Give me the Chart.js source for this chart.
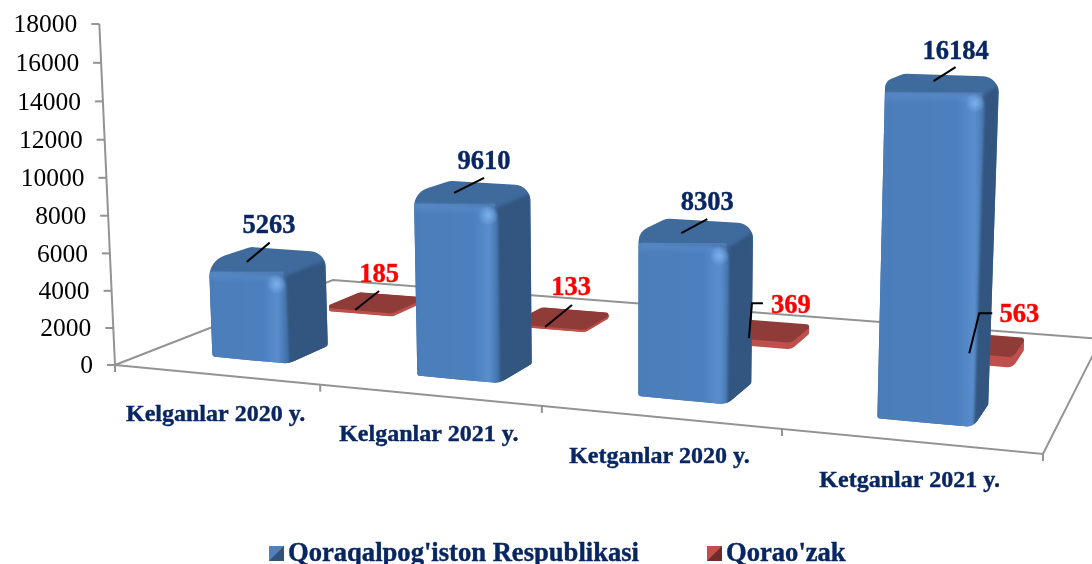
<!DOCTYPE html>
<html lang="en">
<head>
    <meta charset="UTF-8">
    <title>Kelganlar va ketganlar</title>
    <script src="https://cdn.jsdelivr.net/npm/chart.js"></script>
    <style>
        html, body { margin: 0; padding: 0; background: #fff; overflow: hidden; }
        .chart-container { position: relative; width: 1092px; height: 564px; }
    </style>
</head>
<body>
    <div class="chart-container"><canvas id="myChart"></canvas></div>
    <script>
        const categories = ['Kelganlar 2020 y.', 'Kelganlar 2021 y.', 'Ketganlar 2020 y.', 'Ketganlar 2021 y.'];
        const seriesNames = ["Qoraqalpog'iston Respublikasi", "Qorao'zak"];
        const respublikaValues = [5263, 9610, 8303, 16184];
        const qoraozakValues = [185, 133, 369, 563];

        const navy = '#082662';
        const serif = '"Liberation Serif", serif';

        // floor of the 3d box: unit square to picture, solved from the four floor corners
        const H = { a: 773.4, b: 291.1, c: 115, d: 21.7, e: -23.5, f: 365, g: -0.1482, h: 0.2195 };
        const tiltX = 620, tiltDist = 11000;
        const barShift = 0.001;

        // depth slot of each series on the floor
        const depth = [[0.14, 0.32], [0.65, 0.85]];

        // label and leader offsets from the top centre of each bar
        const labelOffsets = [
            [[2, -30], [12, -27], [11.6, -25], [13.6, -27]],
            [[4, -27.5], [9, -30.3], [29, -24.2], [43, -28.7]]
        ];
        const leaderOffsets = [
            [[[2.7, -13.7], [-20.3, 5.6]], [[12.1, -11], [-17.9, 4]], [[11.6, -8.7], [-14.4, 5.3]], [[13.6, -11.9], [-8.4, 2.1]]],
            [[[4, -11.5], [-20, 7.5]], [[10, -13.3], [-17, 8.7]], [[1, -27.2], [-10, -27.2], [-13, 7.8]], [[16, -30.7], [3, -30.7], [-7, 9.3]]]
        ];

        function project(chart, u, w, value) {
            const den = H.g * u + H.h * w + 1;
            const x = (H.a * u + H.b * w + H.c) / den;
            const y = (H.d * u + H.e * w + H.f) / den;
            const scale = chart.scales.y;
            let hp = scale.bottom - scale.getPixelForValue(value);
            hp = hp * (1 + 0.00008 * (hp - 341)) / den;
            return { x: x + (x - tiltX) * hp / tiltDist, y: y - hp };
        }

        function roundPath(ctx, pts, radii) {
            const n = pts.length;
            const len = (p, q) => Math.hypot(p.x - q.x, p.y - q.y);
            ctx.beginPath();
            ctx.moveTo((pts[n - 1].x + pts[0].x) / 2, (pts[n - 1].y + pts[0].y) / 2);
            pts.forEach((p, i) => {
                const next = pts[(i + 1) % n], prev = pts[(i + n - 1) % n];
                const r = Math.min(radii[i], len(p, next) / 2, len(p, prev) / 2);
                ctx.arcTo(p.x, p.y, next.x, next.y, r);
            });
            ctx.closePath();
        }

        function polygon(ctx, pts) {
            ctx.beginPath();
            pts.forEach((p, i) => i ? ctx.lineTo(p.x, p.y) : ctx.moveTo(p.x, p.y));
            ctx.closePath();
        }

        function line(ctx, pts, color, width) {
            ctx.beginPath();
            pts.forEach((p, i) => i ? ctx.lineTo(p.x, p.y) : ctx.moveTo(p.x, p.y));
            ctx.strokeStyle = color;
            ctx.lineWidth = width;
            ctx.stroke();
        }

        function boldText(ctx, text, x, y, color) {
            ctx.fillStyle = color;
            ctx.strokeStyle = color;
            ctx.lineWidth = 0.4;
            ctx.fillText(text, x, y);
            ctx.strokeText(text, x, y);
        }

        function barRange(chart, el) {
            const area = chart.chartArea;
            return [(el.x - el.width / 2 - area.left) / area.width + barShift, (el.x + el.width / 2 - area.left) / area.width + barShift];
        }

        function drawBlueBar(chart, el, value) {
            const ctx = chart.ctx;
            const [u0, u1] = barRange(chart, el);
            const [w0, w1] = depth[0];
            const fbl = project(chart, u0, w0, 0), fbr = project(chart, u1, w0, 0), bbr = project(chart, u1, w1, 0);
            const ftl = project(chart, u0, w0, value), ftr = project(chart, u1, w0, value);
            const btr = project(chart, u1, w1, value), btl = project(chart, u0, w1, value);
            const down = (p, d) => ({ x: p.x, y: p.y + d });
            const ftlD = down(ftl, 10), ftrD = down(ftr, 10), btrD = down(btr, 8);

            ctx.save();
            roundPath(ctx, [fbl, ftl, btl, btr, bbr, fbr], [3, 30, 14, 16, 3, 22]);
            ctx.fillStyle = '#3f6a9c';
            ctx.fill();
            ctx.clip();

            ctx.filter = 'blur(1.5px)';
            polygon(ctx, [{ x: fbr.x, y: fbr.y + 6 }, ftrD, btrD, { x: bbr.x + 6, y: bbr.y + 6 }]);
            ctx.fillStyle = '#32567f';
            ctx.fill();

            roundPath(ctx, [down(fbl, 8), { x: ftlD.x - 8, y: ftlD.y }, ftrD, down(fbr, 8)], [0, 13, 13, 0]);
            const g = ctx.createLinearGradient(ftl.x, 0, ftr.x, 0);
            g.addColorStop(0, '#4a7db9');
            g.addColorStop(0.72, '#4c7fbd');
            g.addColorStop(0.9, '#5a8ecd');
            g.addColorStop(1, '#4475ad');
            ctx.fillStyle = g;
            ctx.fill();
            ctx.filter = 'none';

            const bevel = ctx.createLinearGradient(0, ftlD.y, 0, ftlD.y + 12);
            bevel.addColorStop(0, 'rgba(105,155,215,0.45)');
            bevel.addColorStop(1, 'rgba(105,155,215,0)');
            ctx.fillStyle = bevel;
            ctx.fillRect(ftl.x - 8, ftlD.y + 1, ftr.x - ftl.x + 6, 14);
            const spot = ctx.createRadialGradient(ftrD.x - 9, ftrD.y + 8, 0, ftrD.x - 9, ftrD.y + 8, 10);
            spot.addColorStop(0, 'rgba(125,178,238,0.95)');
            spot.addColorStop(1, 'rgba(125,178,238,0)');
            ctx.fillStyle = spot;
            ctx.fillRect(ftrD.x - 20, ftrD.y - 3, 24, 24);
            ctx.restore();
        }

        function drawRedBar(chart, el, value) {
            const ctx = chart.ctx;
            const [u0, u1] = barRange(chart, el);
            const [w0, w1] = depth[1];
            const outline = v => [project(chart, u0, w0, v), project(chart, u0, w1, v), project(chart, u1, w1, v), project(chart, u1, w0, v)];
            const radii = [2, 10, 2.5, 10];
            const steps = 8;
            for (let k = 0; k < steps; k++) {
                roundPath(ctx, outline(value * k / steps), radii);
                ctx.fillStyle = '#bf504c';
                ctx.fill();
            }
            roundPath(ctx, outline(value), radii);
            ctx.fillStyle = '#8f3c39';
            ctx.fill();
        }

        function drawFloor(chart) {
            const ctx = chart.ctx;
            const grey = '#939393';
            line(ctx, [project(chart, 0, 0, 0), project(chart, 0, 1, 0), project(chart, 1, 1, 0), project(chart, 1, 0, 0), project(chart, 0, 0, 0)], grey, 2);
            for (let i = 0; i <= categories.length; i++) {
                const p = project(chart, i / categories.length, 0, 0);
                line(ctx, [p, { x: p.x, y: p.y + 7 }], grey, 2);
            }
        }

        function drawValueAxis(chart) {
            const ctx = chart.ctx;
            const scale = chart.scales.y;
            line(ctx, [project(chart, 0, 0, scale.min), project(chart, 0, 0, scale.max)], '#939393', 2);
            ctx.font = '25.5px ' + serif;
            ctx.fillStyle = '#000';
            ctx.textAlign = 'right';
            ctx.textBaseline = 'middle';
            scale.ticks.forEach(t => {
                const p = project(chart, 0, 0, t.value);
                line(ctx, [{ x: p.x - 8, y: p.y }, p], '#939393', 2);
                ctx.fillText(String(t.value), p.x - 22, p.y + 1.5);
            });
        }

        function drawCategoryLabels(chart) {
            const ctx = chart.ctx;
            const xScale = chart.scales.x;
            const area = chart.chartArea;
            ctx.font = 'bold 24px ' + serif;
            ctx.textAlign = 'center';
            ctx.textBaseline = 'middle';
            categories.forEach((name, i) => {
                const p = project(chart, (xScale.getPixelForValue(i) - area.left) / area.width, 0, 0);
                boldText(ctx, name, p.x, p.y + 40, navy);
            });
        }

        function drawValueLabels(chart) {
            const ctx = chart.ctx;
            const colors = [navy, '#ff0000'];
            chart.data.datasets.forEach((ds, s) => {
                const meta = chart.getDatasetMeta(s);
                meta.data.forEach((el, i) => {
                    const [u0, u1] = barRange(chart, el);
                    const a = project(chart, (u0 + u1) / 2 - barShift, (depth[s][0] + depth[s][1]) / 2, ds.data[i]);
                    line(ctx, leaderOffsets[s][i].map(o => ({ x: a.x + o[0], y: a.y + o[1] })), '#000', 2);
                    ctx.font = 'bold 26.5px ' + serif;
                    ctx.textAlign = 'center';
                    ctx.textBaseline = 'middle';
                    boldText(ctx, String(ds.data[i]), a.x + labelOffsets[s][i][0], a.y + labelOffsets[s][i][1], colors[s]);
                });
            });
        }

        function drawLegend(chart) {
            const ctx = chart.ctx;
            const swatches = [['#4f81bd', '#2f5379', 269], ['#c0504d', '#6e2c2a', 707]];
            ctx.font = 'bold 26.6px ' + serif;
            ctx.textAlign = 'left';
            ctx.textBaseline = 'alphabetic';
            chart.data.datasets.forEach((ds, s) => {
                const [light, dark, x] = swatches[s];
                const y = 546, size = 15;
                ctx.fillStyle = light;
                ctx.fillRect(x, y, size, size);
                polygon(ctx, [{ x: x, y: y + size }, { x: x + size, y: y }, { x: x + size, y: y + size }]);
                ctx.fillStyle = dark;
                ctx.fill();
                boldText(ctx, ds.label, x + 19, 561, navy);
            });
        }

        const bars3d = {
            id: 'bars3d',
            beforeDatasetsDraw(chart) {
                drawFloor(chart);
                drawValueAxis(chart);
                chart.getDatasetMeta(1).data.forEach((el, i) => drawRedBar(chart, el, chart.data.datasets[1].data[i]));
                chart.getDatasetMeta(0).data.forEach((el, i) => drawBlueBar(chart, el, chart.data.datasets[0].data[i]));
                drawCategoryLabels(chart);
                drawValueLabels(chart);
                drawLegend(chart);
                return false;
            }
        };

        const ctx = document.getElementById('myChart').getContext('2d');
        const myChart = new Chart(ctx, {
            type: 'bar',
            data: {
                labels: categories,
                datasets: [
                    { label: seriesNames[0], data: respublikaValues, backgroundColor: '#4f81bd', grouped: false },
                    { label: seriesNames[1], data: qoraozakValues, backgroundColor: '#c0504d', grouped: false }
                ]
            },
            options: {
                responsive: true,
                maintainAspectRatio: false,
                animation: false,
                layout: { padding: { left: 115, right: 49, top: 24, bottom: 199 } },
                datasets: { bar: { barPercentage: 0.38, categoryPercentage: 1 } },
                plugins: { legend: { display: false }, tooltip: { enabled: false } },
                scales: {
                    x: { display: false },
                    y: { display: false, min: 0, max: 18000, ticks: { stepSize: 2000 } }
                }
            },
            plugins: [bars3d]
        });
    </script>
</body>
</html>
